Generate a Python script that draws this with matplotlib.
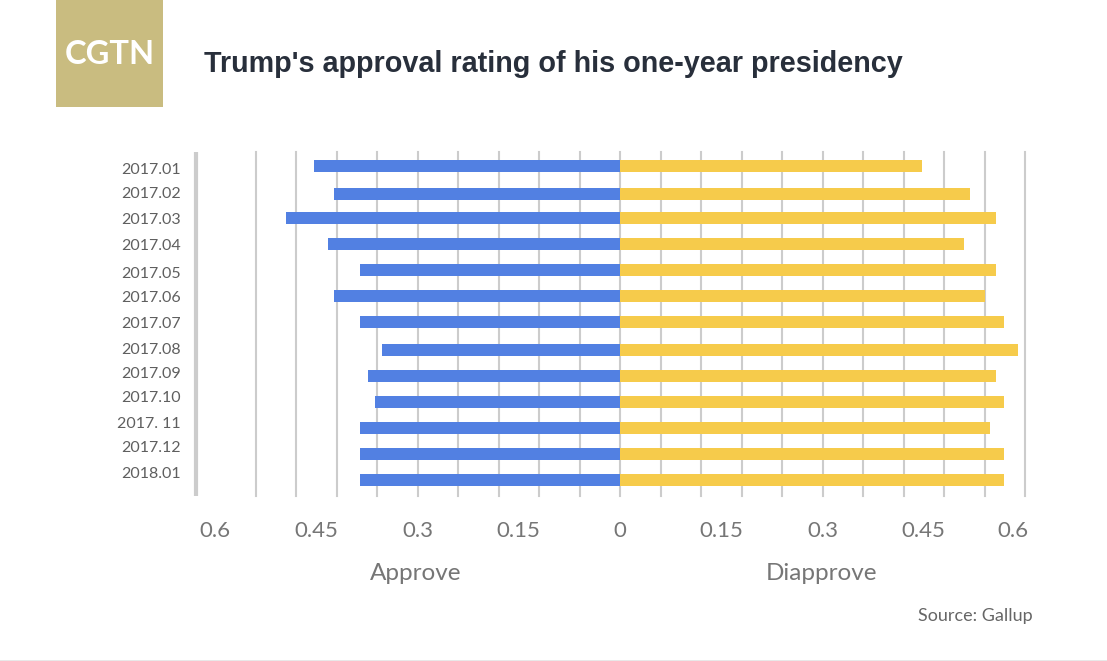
import matplotlib
matplotlib.use('Agg')
import matplotlib.pyplot as plt
from matplotlib.patches import Rectangle
from matplotlib.transforms import ScaledTranslation


W, H = 1107, 661

months = ['2017.01', '2017.02', '2017.03', '2017.04', '2017.05', '2017.06', '2017.07',
          '2017.08', '2017.09', '2017.10', '2017. 11', '2017.12', '2018.01']
approve = [0.453, 0.424, 0.495, 0.433, 0.385, 0.424, 0.385, 0.353, 0.373, 0.363, 0.385, 0.385, 0.385]
disapprove = [0.447, 0.519, 0.557, 0.510, 0.557, 0.541, 0.569, 0.590, 0.557, 0.569, 0.548, 0.569, 0.569]
tick_values = [-0.6, -0.45, -0.3, -0.15, 0, 0.15, 0.3, 0.45, 0.6]
tick_labels = ['0.6', '0.45', '0.3', '0.15', '0', '0.15', '0.3', '0.45', '0.6']

# row spacing in the original is uneven, so positions are pixel rows
bar_rows = [166, 194, 218, 244, 270, 296, 322, 350, 376, 402, 428, 454, 480]
label_rows = [168, 193, 218, 245, 272, 297, 322, 348, 372, 397, 422, 447, 473]

BLUE = '#5280e2'
YELLOW = '#f6cb4b'
GRID = '#cccccc'
GREY = '#767676'
PX_PER_UNIT = 675.0
ZERO_PX = 620

plt.rcParams['font.family'] = ['Lato', 'DejaVu Sans']

fig = plt.figure(figsize=(W / 100, H / 100), dpi=100, facecolor='white')

# plot area in pixels: 196..1025 across, 152..496 down
ax = fig.add_axes([196 / W, 1 - 496 / H, (1025 - 196) / W, (496 - 152) / H])
ax.set_xlim((196 - ZERO_PX) / PX_PER_UNIT, (1025 - ZERO_PX) / PX_PER_UNIT)
ax.set_ylim(496, 152)

for k in range(-9, 11):
    ax.axvline(k * 0.06, color=GRID, lw=1.5, zorder=1, clip_on=False)

ax.barh(bar_rows, [-v for v in approve], height=12, color=BLUE, zorder=2)
ax.barh(bar_rows, disapprove, height=12, color=YELLOW, zorder=2)

for side in ['top', 'right', 'bottom']:
    ax.spines[side].set_visible(False)
ax.spines['left'].set_color(GRID)
ax.spines['left'].set_linewidth(3)
ax.spines['left'].set_capstyle('butt')

ax.set_yticks(label_rows)
ax.set_yticklabels(months, fontsize=11.5, color='#5f5f5f')
ax.tick_params(axis='y', length=0, pad=11)

ax.set_xticks(tick_values)
ax.set_xticklabels(tick_labels, fontsize=16, color=GREY)
ax.tick_params(axis='x', length=0, pad=18)
# last label sits left of its gridline in the original
last = ax.get_xticklabels()[-1]
last.set_transform(last.get_transform() + ScaledTranslation(-12 / 100, 0, fig.dpi_scale_trans))

fig.text(416 / W, 1 - 573 / H, 'Approve', fontsize=17.5, color=GREY,
         ha='center', va='center')
fig.text(822 / W, 1 - 573 / H, 'Diapprove', fontsize=17.5, color=GREY,
         ha='center', va='center')
fig.text(1033 / W, 1 - 616 / H, 'Source: Gallup', fontsize=13, color='#666666',
         ha='right', va='center')

# logo and header
fig.add_artist(Rectangle((56 / W, 1 - 107 / H), 107 / W, 107 / H, transform=fig.transFigure,
                         facecolor='#c9bc80', edgecolor='none'))
fig.text(109.5 / W, 1 - 54 / H, 'CGTN', fontsize=23.5, color='white', fontweight='bold',
         ha='center', va='center')
fig.text(204 / W, 1 - 64 / H, "Trump's approval rating of his one-year presidency", fontsize=20.7,
         family='Liberation Sans', fontweight='bold', color='#282f3b', ha='left', va='center')

# thin rule along the bottom edge
fig.add_artist(Rectangle((0, 0), 1, 1.5 / H, transform=fig.transFigure,
                         facecolor='#e8e8e8', edgecolor='none'))

fig.savefig('out.png', dpi=100)
